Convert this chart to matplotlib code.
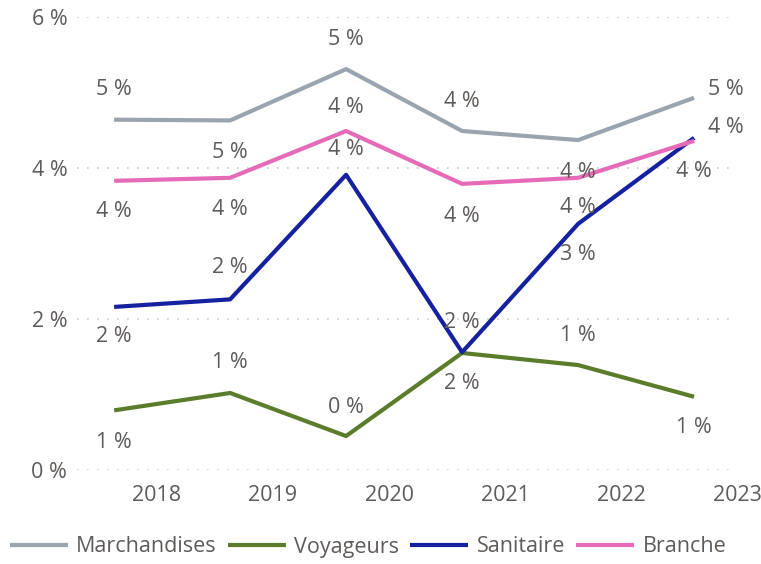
import matplotlib.pyplot as plt

plt.rcParams['font.family'] = ['Open Sans', 'DejaVu Sans']

years = ['2018', '2019', '2020', '2021', '2022', '2023']
marchandises = [4.64, 4.63, 5.31, 4.49, 4.37, 4.93]
voyageurs = [0.79, 1.02, 0.45, 1.55, 1.39, 0.97]
sanitaire = [2.16, 2.26, 3.91, 1.56, 3.26, 4.40]
branche = [3.83, 3.87, 4.49, 3.79, 3.87, 4.36]

series = [
    ('Marchandises', marchandises, '#9AA4AE'),
    ('Voyageurs', voyageurs, '#5B7D2B'),
    ('Sanitaire', sanitaire, '#15219E'),
    ('Branche', branche, '#E56BB8'),
]

# label offsets in pixels (dx, dy) for each point, chosen to avoid overlaps
label_offsets = {
    'Marchandises': [(0, 30), (0, -32), (0, 30), (0, 30), (0, -32), (32, 8)],
    'Voyageurs': [(0, -32), (0, 30), (0, 29), (0, -31), (0, 30), (0, -31)],
    'Sanitaire': [(0, -30), (0, 32), (0, 25), (0, 30), (0, -31), (0, -34)],
    'Branche': [(0, -31), (0, -32), (0, 24), (0, -33), (0, -30), (32, 13)],
}

txt_color = '#5F5B59'
fs = 15.5

fig = plt.figure(figsize=(7.61, 5.64), dpi=100)
ax = fig.add_axes([77 / 761, 1 - 470 / 564, 660 / 761, 453 / 564])

x = list(range(len(years)))
for name, vals, col in series:
    ax.plot(x, vals, color=col, lw=3, label=name, solid_capstyle='butt', zorder=3)
    for xi, v, (dx, dy) in zip(x, vals, label_offsets[name]):
        ax.annotate(f'{round(v)} %', xy=(xi, v), xytext=(dx, dy), textcoords='offset pixels',
                    ha='center', va='center', fontsize=fs, color=txt_color,
                    annotation_clip=False, zorder=4)

ax.set_xlim(-0.32, 5.37)
ax.set_ylim(0, 6)
ax.set_xticks([i + 0.37 for i in x])
ax.set_xticklabels(years)
ax.set_yticks([0, 2, 4, 6])
ax.set_yticklabels(['0 %', '2 %', '4 %', '6 %'])
ax.tick_params(axis='both', length=0, labelsize=fs, labelcolor=txt_color)
ax.tick_params(axis='x', pad=11)
ax.tick_params(axis='y', pad=7)
for sp in ax.spines.values():
    sp.set_visible(False)
ax.grid(axis='y', color='#CCCCCC', linestyle=(0, (1, 5)), lw=1.2)
ax.grid(axis='x', visible=False)
ax.set_axisbelow(True)

fig.legend(loc='center', bbox_to_anchor=(368 / 761, 1 - 547 / 564), ncol=4, frameon=False,
           fontsize=fs, labelcolor=txt_color, handlelength=2.7, handletextpad=0.4,
           columnspacing=0.5, borderaxespad=0)

fig.savefig('out.png', dpi=100)
